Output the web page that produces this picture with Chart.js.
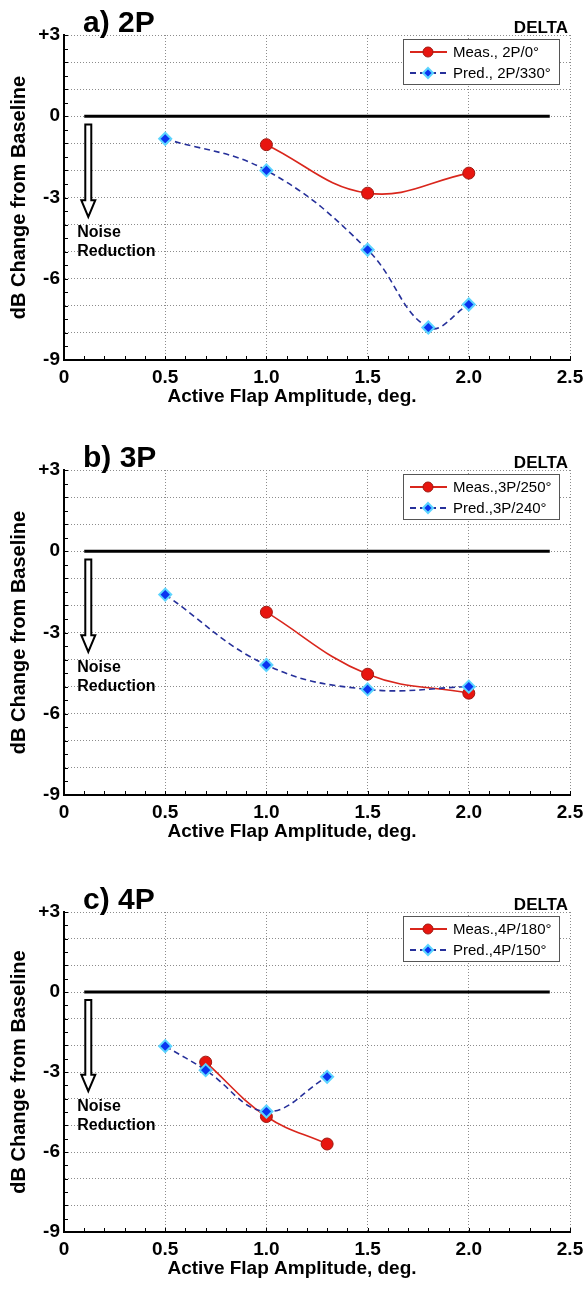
<!DOCTYPE html>
<html>
<head>
<meta charset="utf-8">
<script src="https://cdn.jsdelivr.net/npm/chart.js@4.4.1/dist/chart.umd.min.js"></script>
<style>
  body { margin: 0; background: #fff; width: 586px; height: 1292px; overflow: hidden; position: relative; }
  canvas { position: absolute; left: 0; }
</style>
</head>
<body>
<canvas id="chart2P" width="586" height="420" style="top:0px"></canvas>
<canvas id="chart3P" width="586" height="420" style="top:435px"></canvas>
<canvas id="chart4P" width="586" height="415" style="top:877px"></canvas>
<script>
// Axis labels
var xTickLabels = ['0', '0.5', '1.0', '1.5', '2.0', '2.5'];
var yTickValues = [3, 0, -3, -6, -9];
var yTickLabels = ['+3', '0', '-3', '-6', '-9'];

// Zero reference line
var baselineAmp = [0.1, 2.4];
var baselineDb = [0, 0];

// a) 2P
var meas2PAmp = [1.0, 1.5, 2.0];
var meas2PDb = [-1.05, -2.84, -2.1];
var pred2PAmp = [0.5, 1.0, 1.5, 1.8, 2.0];
var pred2PDb = [-0.83, -2.0, -4.93, -7.8, -6.95];

// b) 3P
var meas3PAmp = [1.0, 1.5, 2.0];
var meas3PDb = [-2.25, -4.54, -5.24];
var pred3PAmp = [0.5, 1.0, 1.5, 2.0];
var pred3PDb = [-1.6, -4.2, -5.1, -5.0];

// c) 4P
var meas4PAmp = [0.7, 1.0, 1.3];
var meas4PDb = [-2.63, -4.67, -5.7];
var pred4PAmp = [0.5, 0.7, 1.0, 1.3];
var pred4PDb = [-2.03, -2.93, -4.48, -3.18];

var FONT = "'Liberation Sans', Arial, Helvetica, sans-serif";
Chart.defaults.font.family = FONT;

var measColor = '#d9261c';
var predColor = '#26309a';

function toPoints(xs, ys) {
    return xs.map(function(x, i) { return { x: x, y: ys[i] }; });
}

// Titles, legend, inward tick marks and the noise reduction arrow
var decorPlugin = {
    id: 'decor',
    afterDraw: function(chart, args, opts) {
        var ctx = chart.ctx;
        var area = chart.chartArea;
        var xs = chart.scales.x;
        var ys = chart.scales.y;
        ctx.save();

        // inward ticks
        ctx.strokeStyle = '#000';
        ctx.lineWidth = 1;
        ctx.beginPath();
        for (var v = -9; v <= 3.001; v += 0.5) {
            var py = Math.round(ys.getPixelForValue(v)) + 0.5;
            ctx.moveTo(area.left, py);
            ctx.lineTo(area.left + 4, py);
        }
        for (var k = 0; k <= 25; k++) {
            var px = Math.round(xs.getPixelForValue(k / 10)) + 0.5;
            ctx.moveTo(px, area.bottom);
            ctx.lineTo(px, area.bottom - 4);
        }
        ctx.stroke();

        // panel title and DELTA tag
        ctx.fillStyle = '#000';
        ctx.textBaseline = 'alphabetic';
        ctx.textAlign = 'left';
        ctx.font = 'bold 30px ' + FONT;
        ctx.fillText(opts.title, 83, area.top - 3);
        ctx.textAlign = 'right';
        ctx.font = 'bold 17px ' + FONT;
        ctx.fillText('DELTA', 568, area.top - 2);

        // legend box
        var bx = 403, by = area.top + 4, bw = 156, bh = 45;
        ctx.fillStyle = '#fff';
        ctx.fillRect(bx, by, bw, bh);
        ctx.strokeStyle = '#555';
        ctx.lineWidth = 1;
        ctx.strokeRect(bx + 0.5, by + 0.5, bw, bh);
        chart.data.datasets.forEach(function(ds, i) {
            if (!ds.legendRow) return;
            var ry = by + (ds.legendRow === 1 ? 13 : 34);
            ctx.save();
            ctx.strokeStyle = ds.borderColor;
            ctx.lineWidth = 2;
            ctx.setLineDash(ds.borderDash || []);
            ctx.beginPath();
            ctx.moveTo(bx + 7, ry);
            ctx.lineTo(bx + 44, ry);
            ctx.stroke();
            ctx.setLineDash([]);
            ctx.fillStyle = ds.pointBackgroundColor;
            ctx.strokeStyle = ds.pointBorderColor;
            ctx.lineWidth = ds.pointBorderWidth;
            ctx.beginPath();
            if (ds.pointStyle === 'rectRot') {
                ctx.moveTo(bx + 25, ry - 5);
                ctx.lineTo(bx + 30, ry);
                ctx.lineTo(bx + 25, ry + 5);
                ctx.lineTo(bx + 20, ry);
                ctx.closePath();
            } else {
                ctx.arc(bx + 25, ry, 5, 0, Math.PI * 2);
            }
            ctx.fill();
            ctx.stroke();
            ctx.restore();
            ctx.fillStyle = '#000';
            ctx.textAlign = 'left';
            ctx.textBaseline = 'middle';
            ctx.font = '15px ' + FONT;
            ctx.fillText(ds.label, bx + 50, ry + 1);
        });

        // hollow arrow pointing down
        var ax = xs.getPixelForValue(0.12);
        var aTop = ys.getPixelForValue(-0.3);
        var aNeck = ys.getPixelForValue(-3.1);
        var aTip = ys.getPixelForValue(-3.72);
        ctx.beginPath();
        ctx.moveTo(ax - 3, aTop);
        ctx.lineTo(ax + 3, aTop);
        ctx.lineTo(ax + 3, aNeck);
        ctx.lineTo(ax + 7, aNeck);
        ctx.lineTo(ax, aTip);
        ctx.lineTo(ax - 7, aNeck);
        ctx.lineTo(ax - 3, aNeck);
        ctx.closePath();
        ctx.fillStyle = '#fff';
        ctx.fill();
        ctx.strokeStyle = '#000';
        ctx.lineWidth = 2;
        ctx.stroke();

        ctx.fillStyle = '#000';
        ctx.textAlign = 'left';
        ctx.textBaseline = 'middle';
        ctx.font = 'bold 16px ' + FONT;
        ctx.fillText('Noise', ax - 11, ys.getPixelForValue(-4.3));
        ctx.fillText('Reduction', ax - 11, ys.getPixelForValue(-5.0));

        // axis titles
        ctx.font = 'bold 19px ' + FONT;
        ctx.textAlign = 'center';
        ctx.fillText('Active Flap Amplitude, deg.', 292, area.bottom + 37);
        ctx.save();
        ctx.translate(19, (area.top + area.bottom) / 2);
        ctx.rotate(-Math.PI / 2);
        ctx.font = 'bold 20px ' + FONT;
        ctx.fillText('dB Change from Baseline', 0, 0);
        ctx.restore();

        ctx.restore();
    }
};

function makePanel(canvasId, title, measLabel, measAmp, measDb, predLabel, predAmp, predDb) {
    var ctx = document.getElementById(canvasId).getContext('2d');
    return new Chart(ctx, {
        type: 'scatter',
        data: {
            datasets: [{
                label: measLabel,
                legendRow: 1,
                data: toPoints(measAmp, measDb),
                showLine: true,
                tension: 0.4,
                borderColor: measColor,
                borderWidth: 1.6,
                pointStyle: 'circle',
                pointRadius: 6,
                pointBackgroundColor: '#e8150f',
                pointBorderColor: '#9e1a12',
                pointBorderWidth: 1,
                order: 1
            }, {
                label: predLabel,
                legendRow: 2,
                data: toPoints(predAmp, predDb),
                showLine: true,
                tension: 0.4,
                borderColor: predColor,
                borderWidth: 1.6,
                borderDash: [6, 4],
                pointStyle: 'rectRot',
                pointRadius: 6,
                pointBackgroundColor: '#0a35f0',
                pointBorderColor: '#5cd4ff',
                pointBorderWidth: 2,
                order: 0
            }, {
                label: 'baseline',
                data: toPoints(baselineAmp, baselineDb),
                showLine: true,
                borderColor: '#000',
                borderWidth: 3,
                pointRadius: 0,
                order: 2
            }]
        },
        options: {
            responsive: false,
            animation: false,
            devicePixelRatio: 1,
            layout: { padding: { top: 35, right: 16, left: 0, bottom: 0 } },
            plugins: {
                legend: { display: false },
                tooltip: { enabled: false },
                decor: { title: title }
            },
            scales: {
                x: {
                    type: 'linear',
                    min: 0,
                    max: 2.5,
                    afterFit: function(scale) {
                        scale.height = 60;
                        scale.paddingLeft = 0;
                        scale.paddingRight = 0;
                    },
                    ticks: {
                        stepSize: 0.5,
                        autoSkip: false,
                        maxRotation: 0,
                        padding: 6,
                        color: '#000',
                        font: { size: 19, weight: 'bold' },
                        callback: function(value) {
                            return xTickLabels[Math.round(value / 0.5)];
                        }
                    },
                    grid: { color: '#8c8c8c', lineWidth: 1, drawTicks: false },
                    border: { color: '#000', width: 2, dash: [1, 2] }
                },
                y: {
                    min: -9,
                    max: 3,
                    afterFit: function(scale) { scale.width = 64; },
                    ticks: {
                        stepSize: 1,
                        autoSkip: false,
                        padding: 4,
                        color: '#000',
                        font: { size: 19, weight: 'bold' },
                        callback: function(value) {
                            var i = yTickValues.indexOf(value);
                            return i < 0 ? '' : yTickLabels[i];
                        }
                    },
                    grid: { color: '#8c8c8c', lineWidth: 1, drawTicks: false },
                    border: { color: '#000', width: 2, dash: [1, 2] }
                }
            }
        },
        plugins: [decorPlugin]
    });
}

makePanel('chart2P', 'a) 2P', 'Meas., 2P/0\u00b0', meas2PAmp, meas2PDb, 'Pred., 2P/330\u00b0', pred2PAmp, pred2PDb);
makePanel('chart3P', 'b) 3P', 'Meas.,3P/250\u00b0', meas3PAmp, meas3PDb, 'Pred.,3P/240\u00b0', pred3PAmp, pred3PDb);
makePanel('chart4P', 'c) 4P', 'Meas.,4P/180\u00b0', meas4PAmp, meas4PDb, 'Pred.,4P/150\u00b0', pred4PAmp, pred4PDb);
</script>
</body>
</html>
